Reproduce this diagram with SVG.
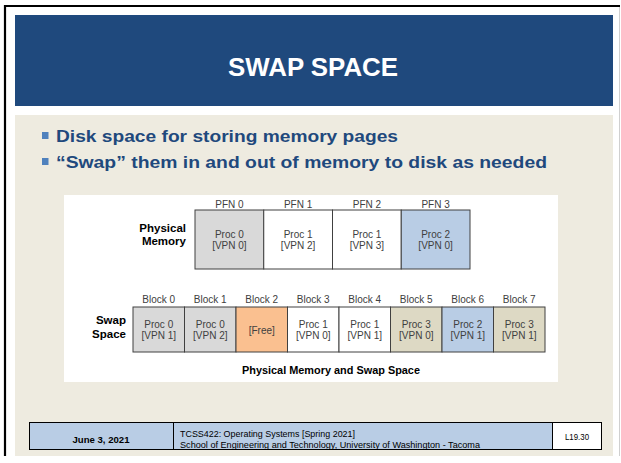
<svg xmlns="http://www.w3.org/2000/svg" width="621" height="463" viewBox="0 0 621 463">
<style>
.cell{stroke:#404040;stroke-width:1}
.gray{fill:#D9D9D9}.white{fill:#FFFFFF}.blue{fill:#B9CDE5}.orange{fill:#FAC090}.tan{fill:#DDD9C4}
.t{font-family:"Liberation Sans",Arial,sans-serif;font-size:10px;fill:#404040;text-anchor:middle}
.lbl{font-family:"Liberation Sans",Arial,sans-serif;font-size:11.5px;font-weight:bold;fill:#000;text-anchor:end}
.bul{font-family:"Liberation Sans",Arial,sans-serif;font-size:16.5px;font-weight:bold;fill:#1F497D}
.foot{font-family:"Liberation Sans",Arial,sans-serif;font-size:9.5px;fill:#000}
</style>
<rect x="0" y="0" width="621" height="463" fill="#FFFFFF"/>
<path d="M5,456 V6 H620" fill="none" stroke="#000" stroke-width="2.2"/>
<line x1="619.5" y1="7" x2="619.5" y2="456" stroke="#D0D0D0" stroke-width="1"/>
<g id="header">
<rect x="15" y="15" width="598" height="91" fill="#1F497D"/>
<text x="313" y="76" font-family="Liberation Sans,Arial,sans-serif" font-size="25" font-weight="bold" fill="#FFFFFF" text-anchor="middle" textLength="170" lengthAdjust="spacingAndGlyphs">SWAP SPACE</text>
</g>
<rect x="15" y="115" width="598" height="341" fill="#EEEBE0"/>
<g id="bullets">
<rect x="42" y="132" width="6.5" height="7" fill="#4F81BD"/>
<text class="bul" x="56" y="142" textLength="342" lengthAdjust="spacingAndGlyphs">Disk space for storing memory pages</text>
<rect x="42" y="158" width="6.5" height="7" fill="#4F81BD"/>
<text class="bul" x="56" y="168" textLength="491" lengthAdjust="spacingAndGlyphs">“Swap” them in and out of memory to disk as needed</text>
</g>
<g id="figure">
<rect x="64" y="195" width="494" height="187" fill="#FFFFFF"/>
<g id="physical-memory">
<text class="lbl" x="186" y="232">Physical</text>
<text class="lbl" x="186" y="245">Memory</text>
<g id="pfn0"><text class="t" x="229.4" y="207.5">PFN 0</text><rect class="cell gray" x="195" y="210" width="68.75" height="59"/><text class="t" x="229.4" y="238">Proc 0</text><text class="t" x="229.4" y="248.5">[VPN 0]</text></g>
<g id="pfn1"><text class="t" x="298.1" y="207.5">PFN 1</text><rect class="cell white" x="263.75" y="210" width="68.75" height="59"/><text class="t" x="298.1" y="238">Proc 1</text><text class="t" x="298.1" y="248.5">[VPN 2]</text></g>
<g id="pfn2"><text class="t" x="366.9" y="207.5">PFN 2</text><rect class="cell white" x="332.5" y="210" width="68.75" height="59"/><text class="t" x="366.9" y="238">Proc 1</text><text class="t" x="366.9" y="248.5">[VPN 3]</text></g>
<g id="pfn3"><text class="t" x="435.6" y="207.5">PFN 3</text><rect class="cell blue" x="401.25" y="210" width="68.75" height="59"/><text class="t" x="435.6" y="238">Proc 2</text><text class="t" x="435.6" y="248.5">[VPN 0]</text></g>
</g>
<g id="swap-space">
<text class="lbl" x="126" y="324">Swap</text>
<text class="lbl" x="126" y="338">Space</text>
<g id="block0"><text class="t" x="158.75" y="302.5">Block 0</text><rect class="cell gray" x="133" y="307" width="51.5" height="45"/><text class="t" x="158.75" y="328">Proc 0</text><text class="t" x="158.75" y="339">[VPN 1]</text></g>
<g id="block1"><text class="t" x="210.25" y="302.5">Block 1</text><rect class="cell gray" x="184.5" y="307" width="51.5" height="45"/><text class="t" x="210.25" y="328">Proc 0</text><text class="t" x="210.25" y="339">[VPN 2]</text></g>
<g id="block2"><text class="t" x="261.75" y="302.5">Block 2</text><rect class="cell orange" x="236" y="307" width="51.5" height="45"/><text class="t" x="261.75" y="333.5">[Free]</text></g>
<g id="block3"><text class="t" x="313.25" y="302.5">Block 3</text><rect class="cell white" x="287.5" y="307" width="51.5" height="45"/><text class="t" x="313.25" y="328">Proc 1</text><text class="t" x="313.25" y="339">[VPN 0]</text></g>
<g id="block4"><text class="t" x="364.75" y="302.5">Block 4</text><rect class="cell white" x="339" y="307" width="51.5" height="45"/><text class="t" x="364.75" y="328">Proc 1</text><text class="t" x="364.75" y="339">[VPN 1]</text></g>
<g id="block5"><text class="t" x="416.25" y="302.5">Block 5</text><rect class="cell tan" x="390.5" y="307" width="51.5" height="45"/><text class="t" x="416.25" y="328">Proc 3</text><text class="t" x="416.25" y="339">[VPN 0]</text></g>
<g id="block6"><text class="t" x="467.75" y="302.5">Block 6</text><rect class="cell blue" x="442" y="307" width="51.5" height="45"/><text class="t" x="467.75" y="328">Proc 2</text><text class="t" x="467.75" y="339">[VPN 1]</text></g>
<g id="block7"><text class="t" x="519.25" y="302.5">Block 7</text><rect class="cell tan" x="493.5" y="307" width="51.5" height="45"/><text class="t" x="519.25" y="328">Proc 3</text><text class="t" x="519.25" y="339">[VPN 1]</text></g>
</g>
<text x="331" y="374" font-family="Liberation Sans,Arial,sans-serif" font-size="11.5" font-weight="bold" fill="#000" text-anchor="middle" textLength="178" lengthAdjust="spacingAndGlyphs">Physical Memory and Swap Space</text>
</g>
<g id="connectors"></g>
<g id="footer">
<rect x="29.5" y="422.5" width="572" height="27" fill="#B9CDE5" stroke="#000" stroke-width="1"/>
<rect x="552.5" y="422.5" width="49" height="27" fill="#FFFFFF" stroke="#000" stroke-width="1"/>
<line x1="173.5" y1="422.5" x2="173.5" y2="449.5" stroke="#000" stroke-width="1"/>
<text class="foot" x="101" y="443" font-weight="bold" text-anchor="middle" textLength="57" lengthAdjust="spacingAndGlyphs">June 3, 2021</text>
<text class="foot" x="180" y="437.3" textLength="175" lengthAdjust="spacingAndGlyphs">TCSS422: Operating Systems [Spring 2021]</text>
<text class="foot" x="180" y="447.5" textLength="300" lengthAdjust="spacingAndGlyphs">School of Engineering and Technology, University of Washington - Tacoma</text>
<text class="foot" x="577" y="440" text-anchor="middle" textLength="24" lengthAdjust="spacingAndGlyphs">L19.30</text>
</g>
</svg>
